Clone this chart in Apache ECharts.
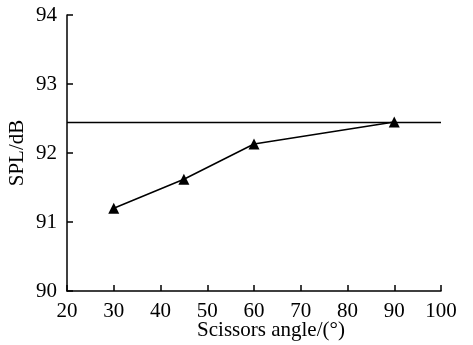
<!DOCTYPE html>
<html>
<head>
<meta charset="utf-8">
<script src="https://cdn.jsdelivr.net/npm/echarts@6/dist/echarts.min.js"></script>
<style>html,body{margin:0;padding:0;background:#fff;}#c{width:473px;height:345px;}</style>
</head>
<body>
<div id="c"></div>
<script>
const angles = [30, 45, 60, 90];
const spl = [91.2, 91.62, 92.13, 92.45];
const refLevel = 92.44;
const xTicks = [20, 100, 10];
const yTicks = [90, 94, 1];

const chart = echarts.init(document.getElementById('c'));
const font = 'Liberation Serif';
chart.setOption({
  animation: false,
  grid: {left: 67, right: 32, top: 15, bottom: 54, containLabel: false, outerBoundsMode: 'none'},
  xAxis: {
    type: 'value', min: xTicks[0], max: xTicks[1], interval: xTicks[2],
    name: 'Scissors angle/(°)', nameLocation: 'middle', nameGap: 29, nameMoveOverlap: false,
    nameTextStyle: {fontFamily: font, fontSize: 21, color: '#000', padding: [0, 0, 0, 34]},
    axisLine: {lineStyle: {color: '#000', width: 1.5}},
    axisTick: {inside: true, length: 6, lineStyle: {color: '#000', width: 1.5}},
    axisLabel: {fontFamily: font, fontSize: 21, color: '#000', margin: 10},
    splitLine: {show: false}
  },
  yAxis: {
    type: 'value', min: yTicks[0], max: yTicks[1], interval: yTicks[2],
    name: 'SPL/dB', nameLocation: 'middle', nameGap: 39, nameMoveOverlap: false,
    nameTextStyle: {fontFamily: font, fontSize: 21, color: '#000'},
    axisLine: {show: true, lineStyle: {color: '#000', width: 1.5}},
    axisTick: {show: true, inside: true, length: 6, lineStyle: {color: '#000', width: 1.5}},
    axisLabel: {fontFamily: font, fontSize: 21, color: '#000', margin: 10},
    splitLine: {show: false}
  },
  series: [{
    type: 'line',
    data: angles.map((a, i) => [a, spl[i]]),
    symbol: 'triangle', symbolSize: 11,
    itemStyle: {color: '#000'},
    lineStyle: {color: '#000', width: 1.5},
    markLine: {
      silent: true, symbol: 'none', label: {show: false},
      lineStyle: {color: '#000', width: 1.4, type: 'solid'},
      data: [{yAxis: refLevel}]
    }
  }]
});
</script>
</body>
</html>
